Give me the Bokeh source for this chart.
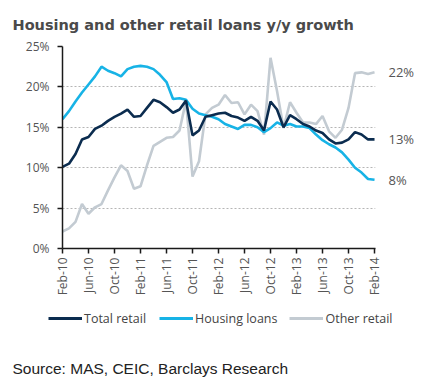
import math
from bokeh.plotting import figure
from bokeh.models import (ColumnDataSource, FixedTicker, Label, Legend, LegendItem, LinearAxis,
                          PrintfTickFormatter, Range1d)
from bokeh.embed import file_html
from bokeh.resources import INLINE

# ---- data (monthly, Feb-10 .. Feb-14) ----
month_index = list(range(49))
tick_positions = list(range(0, 49, 4))
tick_labels = ["Feb-10", "Jun-10", "Oct-10", "Feb-11", "Jun-11", "Oct-11", "Feb-12",
               "Jun-12", "Oct-12", "Feb-13", "Jun-13", "Oct-13", "Feb-14"]

total_retail = [10.1, 10.5, 11.7, 13.5, 13.8, 14.8, 15.2, 15.8, 16.3, 16.7,
                17.2, 16.3, 16.4, 17.4, 18.4, 18.1, 17.5, 16.8, 17.2, 18.3,
                14.0, 14.6, 16.3, 16.5, 16.7, 16.8, 16.4, 16.2, 15.8, 16.3,
                15.8, 14.6, 18.2, 17.2, 15.0, 16.5, 16.0, 15.4, 15.1, 14.6,
                14.3, 13.5, 13.0, 13.1, 13.5, 14.4, 14.1, 13.5, 13.5]
housing_loans = [16.0, 17.0, 18.2, 19.3, 20.3, 21.3, 22.5, 22.0, 21.7, 21.3,
                 22.2, 22.5, 22.6, 22.5, 22.2, 21.5, 20.6, 18.5, 18.6, 18.4,
                 17.3, 16.7, 16.5, 16.3, 16.0, 15.4, 15.1, 14.8, 15.3, 15.3,
                 15.0, 14.4, 14.9, 15.6, 15.2, 15.4, 15.1, 15.1, 14.9, 14.1,
                 13.4, 12.9, 12.5, 11.9, 11.0, 10.0, 9.4, 8.6, 8.5]
other_retail = [2.1, 2.5, 3.3, 5.5, 4.3, 5.1, 5.5, 7.2, 8.8, 10.3,
                9.6, 7.4, 7.7, 10.3, 12.7, 13.2, 13.7, 13.8, 14.6, 18.3,
                8.9, 10.8, 16.6, 17.4, 17.8, 19.0, 18.0, 18.1, 16.6, 17.8,
                17.0, 14.1, 23.6, 19.5, 14.9, 18.1, 16.8, 15.6, 15.6, 15.4,
                16.4, 14.5, 13.7, 14.7, 17.4, 21.7, 21.8, 21.6, 21.8]
end_labels = ["22%", "13%", "8%"]  # other, total, housing (latest values)
series_names = ["Total retail", "Housing loans", "Other retail"]

NAVY = "#0b2c4f"
BLUE = "#17b3e6"
GREY = "#c3cbd2"
TXT = "#555555"

src = ColumnDataSource(dict(m=month_index, total=total_retail,
                            housing=housing_loans, other=other_retail))

p = figure(width=441, height=308, output_backend="svg", toolbar_location=None,
           x_range=Range1d(0, 48.15), y_range=Range1d(0, 25),
           min_border_left=62, min_border_right=66, min_border_top=45,
           min_border_bottom=60)
p.outline_line_color = None
p.background_fill_color = "white"

p.line("m", "other", source=src, line_color=GREY, line_width=2.6)
p.line("m", "housing", source=src, line_color=BLUE, line_width=2.6)
p.line("m", "total", source=src, line_color=NAVY, line_width=2.6)

# axes
p.xaxis.ticker = FixedTicker(ticks=tick_positions)
p.xaxis.major_label_overrides = {t: l for t, l in zip(tick_positions, tick_labels)}
p.xaxis.major_label_orientation = math.pi / 2
p.yaxis.ticker = FixedTicker(ticks=[0, 5, 10, 15, 20, 25])
p.yaxis.formatter = PrintfTickFormatter(format="%d%%")
for ax in (p.xaxis[0], p.yaxis[0]):
    ax.axis_line_color = "#1a1a1a"
    ax.axis_line_width = 1.5
    ax.major_tick_line_color = "#1a1a1a"
    ax.major_tick_line_width = 1.5
    ax.major_tick_out = 5
    ax.major_tick_in = 0
    ax.minor_tick_line_color = None
    ax.major_label_text_font = "Open Sans"
    ax.major_label_text_font_size = "12px"
    ax.major_label_text_color = TXT
p.yaxis.major_label_standoff = 8
p.xaxis.major_label_standoff = 4

p.xgrid.visible = False
p.ygrid.grid_line_color = "#b5b5b5"
p.ygrid.grid_line_dash = "2 2"
p.ygrid.grid_line_width = 1

# end-of-series labels as a bare right axis at the latest values
last_vals = [other_retail[-1], total_retail[-1], housing_loans[-1]]
end_axis = LinearAxis(ticker=FixedTicker(ticks=last_vals),
                      major_label_overrides={v: t for v, t in zip(last_vals, end_labels)},
                      axis_line_color=None, major_tick_line_color=None,
                      major_tick_out=0, major_tick_in=0,
                      minor_tick_line_color=None, major_label_standoff=13,
                      major_label_text_font="Open Sans",
                      major_label_text_font_size="13px",
                      major_label_text_color=TXT)
p.add_layout(end_axis, "right")

# title
p.title.text = "Housing and other retail loans y/y growth"
p.title.align = "left"
p.title.offset = -50
p.title.standoff = 28
p.title.text_font = "DejaVu Sans"
p.title.text_font_style = "bold"
p.title.text_font_size = "14.5px"
p.title.text_color = "#4a4a4a"

# ---- legend + source strip (separate root, no frame alignment) ----
q = figure(width=441, height=70, output_backend="svg", toolbar_location=None,
           x_range=Range1d(0, 1), y_range=Range1d(100, 101),
           x_axis_type=None, y_axis_type=None,
           min_border_left=0, min_border_right=0, min_border_top=0, min_border_bottom=0)
q.outline_line_color = None
q.xgrid.visible = False
q.ygrid.visible = False
items = []
for name, col, key in zip(series_names, [NAVY, BLUE, GREY], ["total", "housing", "other"]):
    r = q.line("m", key, source=src, line_color=col, line_width=3)
    items.append(LegendItem(label=name, renderers=[r]))
legend = Legend(items=items, location=(48, 50), orientation="horizontal",
                glyph_width=34, glyph_height=20, label_standoff=2, spacing=12,
                label_width=63,
                padding=0, margin=0, border_line_alpha=0, background_fill_alpha=0,
                label_text_font="Open Sans", label_text_font_size="12.5px",
                label_text_color="#444444")
q.add_layout(legend)
q.add_layout(Label(x=12, y=10, x_units="screen", y_units="screen",
                   text="Source: MAS, CEIC, Barclays Research",
                   text_font="Liberation Sans", text_font_size="15.5px",
                   text_color="#222222", text_baseline="alphabetic"))

open("out.html", "w").write(file_html([p, q], INLINE))
